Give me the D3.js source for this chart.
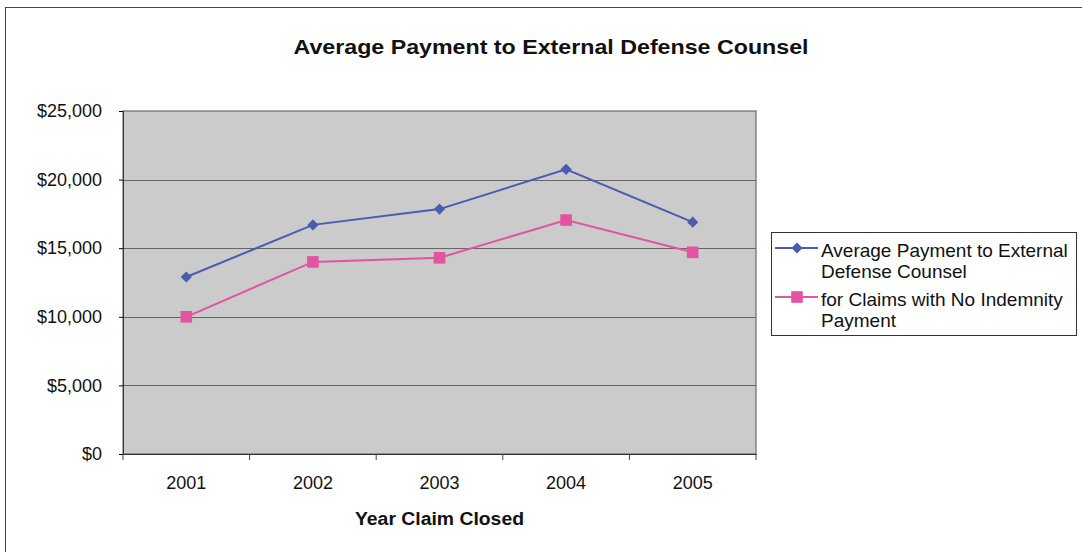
<!DOCTYPE html>
<html lang="en">
<head>
  <title>Average Payment to External Defense Counsel</title>
  <script type="text/javascript" src="https://cdnjs.cloudflare.com/ajax/libs/d3/7.8.5/d3.min.js"></script>
  <style>
    body { margin: 0; background: #fff; }
    text { font-family: "Liberation Sans", Arial, sans-serif; fill: #111; }
  </style>
</head>
<body>
  <script type="text/javascript">
    var years = ["2001", "2002", "2003", "2004", "2005"];
    var avgPayment = [12900, 16700, 17850, 20750, 16900];
    var noIndemnity = [10000, 14000, 14300, 17050, 14700];
    var seriesNames = ["Average Payment to External|Defense Counsel", "for Claims with No Indemnity|Payment"];
    var yTicks = [0, 5000, 10000, 15000, 20000, 25000];

    var width = 1082, height = 552;
    var plot = {left: 123, top: 111, right: 756, bottom: 454};

    var svg = d3.select("body").append("svg")
      .attr("width", width)
      .attr("height", height);

    // outer chart frame
    svg.append("rect")
      .attr("x", 5.5).attr("y", 7.5)
      .attr("width", 1090).attr("height", 560)
      .attr("fill", "none").attr("stroke", "#444").attr("stroke-width", 1);

    var x = d3.scaleBand().domain(years).range([plot.left, plot.right]);
    var y = d3.scaleLinear().domain([0, 25000]).range([plot.bottom, plot.top]);

    svg.append("rect")
      .attr("x", plot.left).attr("y", plot.top)
      .attr("width", plot.right - plot.left).attr("height", plot.bottom - plot.top)
      .attr("fill", "#cbcbcb").attr("stroke", "#555").attr("stroke-width", 1);

    // gridlines
    svg.append("g").selectAll("line")
      .data(yTicks.slice(1, -1))
      .enter().append("line")
      .attr("x1", plot.left).attr("x2", plot.right)
      .attr("y1", function (d) { return Math.round(y(d)) + 0.5; })
      .attr("y2", function (d) { return Math.round(y(d)) + 0.5; })
      .attr("stroke", "#666").attr("stroke-width", 1);

    var yAxis = svg.append("g")
      .attr("transform", "translate(" + plot.left + ",0)")
      .call(d3.axisLeft(y).tickValues(yTicks).tickSize(4).tickPadding(17)
        .tickFormat(function (d) { return "$" + d3.format(",")(d); }));
    yAxis.selectAll("text").style("font-size", "18px");

    var xAxis = svg.append("g")
      .attr("transform", "translate(0," + plot.bottom + ")")
      .call(d3.axisBottom(x).tickSize(0).tickPadding(22));
    xAxis.selectAll("text").style("font-size", "18px");
    xAxis.selectAll("line.cat").data(years.concat(["end"]))
      .enter().append("line")
      .attr("x1", function (d, i) { return plot.left + i * x.bandwidth(); })
      .attr("x2", function (d, i) { return plot.left + i * x.bandwidth(); })
      .attr("y1", 0).attr("y2", 6)
      .attr("stroke", "#444");
    svg.selectAll(".domain").attr("stroke", "#333");

    var series = [
      {name: seriesNames[0], values: avgPayment, color: "#4a5bb0", shape: d3.symbolSquare, size: 62, rot: 45},
      {name: seriesNames[1], values: noIndemnity, color: "#e2549f", shape: d3.symbolSquare, size: 135, rot: 0}
    ];

    var line = d3.line()
      .x(function (d, i) { return x(years[i]) + x.bandwidth() / 2; })
      .y(function (d) { return y(d); });

    series.forEach(function (s) {
      svg.append("path")
        .datum(s.values)
        .attr("d", line)
        .attr("fill", "none")
        .attr("stroke", s.color)
        .attr("stroke-width", 2);
      svg.append("g").selectAll("path")
        .data(s.values)
        .enter().append("path")
        .attr("d", d3.symbol().type(s.shape).size(s.size))
        .attr("transform", function (d, i) {
          return "translate(" + (x(years[i]) + x.bandwidth() / 2) + "," + y(d) + ") rotate(" + s.rot + ")";
        })
        .attr("fill", s.color);
    });

    svg.append("text")
      .attr("x", 551).attr("y", 54)
      .attr("text-anchor", "middle")
      .attr("textLength", 515).attr("lengthAdjust", "spacingAndGlyphs")
      .style("font-size", "21px").style("font-weight", "bold")
      .text("Average Payment to External Defense Counsel");

    svg.append("text")
      .attr("x", (plot.left + plot.right) / 2).attr("y", 525)
      .attr("text-anchor", "middle")
      .attr("textLength", 169).attr("lengthAdjust", "spacingAndGlyphs")
      .style("font-size", "18px").style("font-weight", "bold")
      .text("Year Claim Closed");

    // legend
    var legend = svg.append("g").attr("transform", "translate(771,232)");
    legend.append("rect")
      .attr("x", 0.5).attr("y", 0.5)
      .attr("width", 305).attr("height", 103)
      .attr("fill", "#fff").attr("stroke", "#333");
    series.forEach(function (s, k) {
      var g = legend.append("g").attr("transform", "translate(0," + (16 + k * 49) + ")");
      g.append("line").attr("x1", 4).attr("x2", 47).attr("y1", 0).attr("y2", 0)
        .attr("stroke", s.color).attr("stroke-width", 2);
      g.append("path").attr("d", d3.symbol().type(s.shape).size(s.size))
        .attr("transform", "translate(26,0) rotate(" + s.rot + ")").attr("fill", s.color);
      s.name.split("|").forEach(function (t, j) {
        g.append("text").attr("x", 50).attr("y", 9 + j * 21)
          .style("font-size", "19px").text(t);
      });
    });
  </script>
</body>
</html>
